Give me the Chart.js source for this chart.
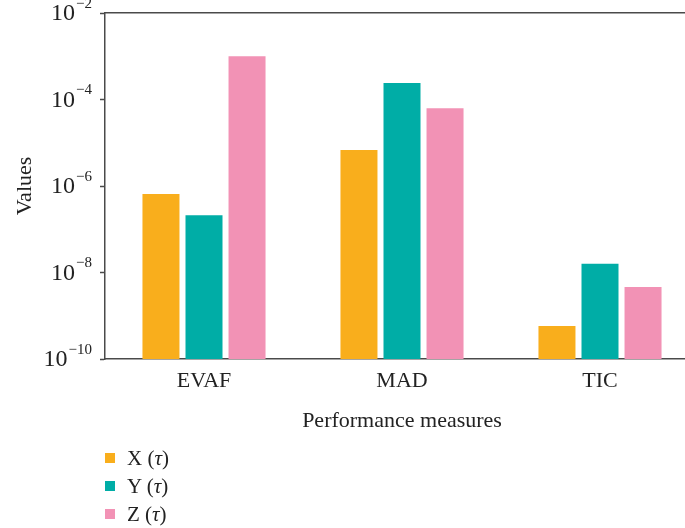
<!DOCTYPE html>
<html>
<head>
<meta charset="utf-8">
<script src="https://cdn.jsdelivr.net/npm/chart.js@4/dist/chart.umd.min.js"></script>
<style>
  html, body { margin: 0; padding: 0; background: #fff; }
  #wrap { position: relative; width: 685px; height: 528px; overflow: hidden; }
  #c { position: absolute; left: 0; top: 0; }
  #legend { position: absolute; left: 105px; top: 444px; font-family: "Liberation Serif", "DejaVu Serif", serif; font-size: 21px; color: #222; }
  .row { height: 28px; display: flex; align-items: center; }
  .sw { width: 10px; height: 10px; margin-right: 12px; }
  .row i { font-style: italic; }
</style>
</head>
<body>
<div id="wrap">
  <canvas id="c" width="699" height="528"></canvas>
  <div id="legend"></div>
</div>
<script>
const categories = ["EVAF", "MAD", "TIC"];
const seriesNames = ["X", "Y", "Z"];
const seriesColors = ["#F9AE1C", "#00ADA6", "#F292B5"];
const xValues = [6.5e-7, 6.8e-6, 5.8e-10];
const yValues = [2.1e-7, 2.4e-4, 1.6e-8];
const zValues = [1.0e-3, 6.3e-5, 4.6e-9];
const tickValues = [1e-10, 1e-8, 1e-6, 1e-4, 1e-2];
const tickBase = "10";
const tickExponents = ["\u221210", "\u22128", "\u22126", "\u22124", "\u22122"];

const seriesValues = [xValues, yValues, zValues];
const FONT = "'Liberation Serif', 'DejaVu Serif', serif";
const AXIS = "#4a4a4a";
const TEXT = "#222";

const legend = document.getElementById('legend');
seriesNames.forEach((n, i) => {
  const r = document.createElement('div');
  r.className = 'row';
  r.innerHTML = '<span class="sw" style="background:' + seriesColors[i] + '"></span><span>' + n + ' (<i>\u03C4</i>)</span>';
  legend.appendChild(r);
});

// Draw the power-of-ten tick labels with a raised exponent
const powerLabels = {
  id: 'powerLabels',
  afterDraw(chart) {
    const s = chart.scales.y;
    const ctx = chart.ctx;
    ctx.save();
    ctx.fillStyle = TEXT;
    ctx.textBaseline = 'middle';
    tickValues.forEach((v, i) => {
      const y = s.getPixelForValue(v);
      const right = s.right - 5 - 8;
      ctx.font = "15px " + FONT;
      const ew = ctx.measureText(tickExponents[i]).width;
      ctx.textAlign = 'right';
      ctx.fillText(tickExponents[i], right, y - 9);
      ctx.font = "24px " + FONT;
      ctx.fillText(tickBase, right - ew - 1, y + 1);
    });
    ctx.restore();
  }
};

new Chart(document.getElementById('c'), {
  type: 'bar',
  data: {
    labels: categories,
    datasets: seriesNames.map((n, i) => ({
      label: n + ' (\u03C4)',
      data: seriesValues[i],
      backgroundColor: seriesColors[i],
      borderWidth: 0,
      categoryPercentage: 0.652,
      barPercentage: 0.86
    }))
  },
  plugins: [powerLabels],
  options: {
    responsive: false,
    animation: false,
    layout: { padding: { top: 13, left: 0, right: 0, bottom: 88 } },
    plugins: { legend: { display: false }, tooltip: { enabled: false } },
    scales: {
      x: {
        grid: { display: false, drawTicks: false },
        border: { display: true, color: AXIS, width: 1.5 },
        ticks: { color: TEXT, font: { family: FONT, size: 22 }, padding: 9 },
        title: { display: true, text: 'Performance measures', color: TEXT, font: { family: FONT, size: 22 }, padding: { top: 12, bottom: 6 } },
        afterFit: s => { s.height = 81; }
      },
      x2: {
        position: 'top',
        grid: { display: false, drawTicks: false },
        border: { display: true, color: AXIS, width: 1.5 },
        ticks: { display: false },
        afterFit: s => { s.height = 0; }
      },
      y: {
        type: 'logarithmic',
        min: 1e-10,
        max: 1e-2,
        afterBuildTicks: s => { s.ticks = tickValues.map(v => ({ value: v })); },
        grid: { drawOnChartArea: false, drawTicks: true, tickLength: 5, color: AXIS, tickWidth: 1.5 },
        border: { display: true, color: AXIS, width: 1.5 },
        ticks: { display: false },
        title: { display: true, text: 'Values', color: TEXT, font: { family: FONT, size: 22 }, padding: { top: 12, bottom: 0 } },
        afterFit: s => { s.width = 105; }
      }
    }
  }
});
</script>
</body>
</html>
